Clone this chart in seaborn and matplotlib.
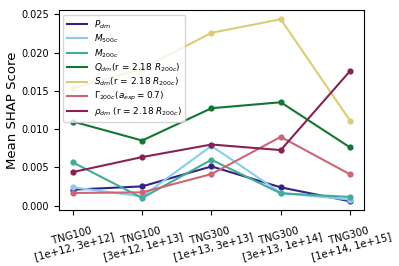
import numpy as np
import pandas as pd
import matplotlib
matplotlib.use("Agg")
import matplotlib.pyplot as plt
import seaborn as sns

bins = ["TNG100\n[1e+12, 3e+12]", "TNG100\n[3e+12, 1e+13]", "TNG300\n[1e+13, 3e+13]",
        "TNG300\n[3e+13, 1e+14]", "TNG300\n[1e+14, 1e+15]"]

labels = [r"$P_{dm}$", r"$M_{500c}$", r"$M_{200c}$",
          r"$Q_{dm}$(r = 2.18 $R_{200c}$)", r"$S_{dm}$(r = 2.18 $R_{200c}$)",
          r"$\Gamma_{200c}(a_{exp} = 0.7)$", r"$\rho_{dm}$ (r = 2.18 $R_{200c}$)"]

p_dm = [0.00208, 0.00251, 0.00512, 0.00238, 0.00056]
m500c = [0.00238, 0.00120, 0.00780, 0.00165, 0.00078]
m200c = [0.00564, 0.00100, 0.00599, 0.00160, 0.00113]
q_dm = [0.01098, 0.00850, 0.01272, 0.01350, 0.00760]
s_dm = [0.01532, 0.01790, 0.02257, 0.02435, 0.01110]
gamma = [0.00165, 0.00173, 0.00412, 0.00898, 0.00408]
rho_dm = [0.00438, 0.00634, 0.00798, 0.00725, 0.01758]

colors = ["#332288", "#88CCEE", "#44AA99", "#117733", "#DDCC77", "#CC6677", "#882255"]

series = [p_dm, m500c, m200c, q_dm, s_dm, gamma, rho_dm]
rows = []
for lab, vals in zip(labels, series):
    for b, v in zip(bins, vals):
        rows.append({"bin": b, "score": v, "feature": lab})
df = pd.DataFrame(rows)

fig, ax = plt.subplots(figsize=(3.99, 2.66), dpi=100)
sns.lineplot(data=df, x="bin", y="score", hue="feature", hue_order=labels,
             palette=colors, marker="o", markersize=4.5, markeredgewidth=0,
             linewidth=1.5, sort=False, ax=ax)

handles, labs = ax.get_legend_handles_labels()
for h in handles:
    h.set_marker("")
ax.legend(handles, labs, loc="upper left", fontsize=6.4, frameon=True,
          handlelength=2.2, labelspacing=0.22, borderpad=0.4)

ax.set_xlabel("")
ax.set_ylabel("Mean SHAP Score", fontsize=9.5, labelpad=2)
ax.tick_params(axis="y", labelsize=7)
ax.tick_params(axis="x", labelsize=7.3)
plt.setp(ax.get_xticklabels(), rotation=15, ha="center")
ax.set_yticks([0.0, 0.005, 0.01, 0.015, 0.02, 0.025])
ax.set_yticklabels(["0.000", "0.005", "0.010", "0.015", "0.020", "0.025"])

fig.subplots_adjust(left=0.148, right=0.912, top=0.962, bottom=0.209)
fig.savefig("out.png", dpi=100)
